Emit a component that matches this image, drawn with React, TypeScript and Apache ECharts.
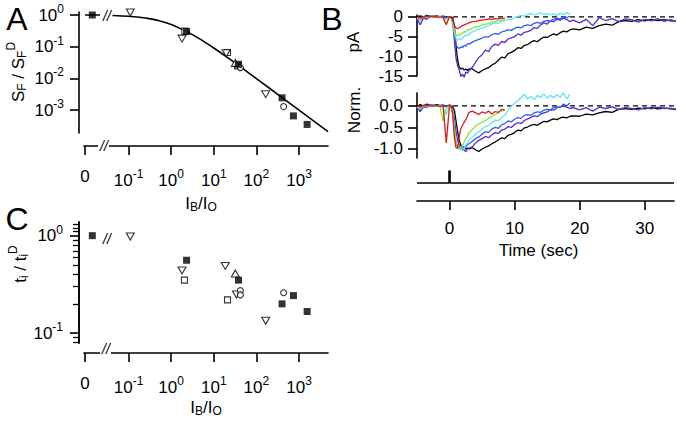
import React, { useEffect, useRef } from 'react';
import * as echarts from 'echarts';

const FONT = '"Liberation Sans", Arial, Helvetica, sans-serif';

// ---------- Panel A : S_F / S_F^D versus I_B/I_O (0 = darkness) ----------
const A_FILLED_SQ_X = [0, 2.3, 38, 400, 740, 1550];
const A_FILLED_SQ_Y = [1.0, 0.3, 0.028, 0.00245, 0.00066, 0.000355];
const A_OPEN_SQ_X = [2.1, 21, 36];
const A_OPEN_SQ_Y = [0.31, 0.066, 0.025];
const A_TRI_DOWN_X = [0.11, 1.8, 19.5, 165];
const A_TRI_DOWN_Y = [1.2, 0.18, 0.062, 0.0032];
const A_TRI_UP_X = [32];
const A_TRI_UP_Y = [0.031];
const A_CIRCLE_X = [42, 436];
const A_CIRCLE_Y = [0.022, 0.0013];
const A_FIT_X = [0.042, 0.1, 0.2, 0.3, 0.5, 1, 2, 3, 5, 10, 20, 50, 100, 200, 500, 1000, 2000, 4800];
const A_FIT_Y = [0.96, 0.91, 0.83, 0.77, 0.67, 0.5, 0.33, 0.25, 0.167, 0.091, 0.048, 0.0196, 0.0099, 0.005, 0.002, 0.001, 0.0005, 0.00021];
const A_FIT_DARK = 1.0;

// ---------- Panel C : t_i / t_i^D versus I_B/I_O ----------
const C_FILLED_SQ_X = [0, 2.3, 38, 400, 740, 1550];
const C_FILLED_SQ_Y = [1.0, 0.56, 0.35, 0.2, 0.243, 0.167];
const C_OPEN_SQ_X = [2.05, 21];
const C_OPEN_SQ_Y = [0.35, 0.22];
const C_TRI_DOWN_X = [0.11, 1.8, 18.6, 34, 165];
const C_TRI_DOWN_Y = [0.98, 0.44, 0.49, 0.25, 0.134];
const C_TRI_UP_X = [32];
const C_TRI_UP_Y = [0.41];
const C_CIRCLE_X = [42, 42, 436];
const C_CIRCLE_Y = [0.273, 0.247, 0.26];
const C_MINOR_TICKS = [1.3, 1.2, 1.1, 0.9, 0.8, 0.7, 0.6, 0.5, 0.4, 0.3, 0.2, 0.09, 0.08];

// log-axis tick labels (exponents of ten) and the "0" (dark) column
const LOG_X_EXP = [-1, 0, 1, 2, 3];
const A_Y_EXP = [0, -1, -2, -3];
const C_Y_EXP = [0, -1];

// ---------- Panel B : responses (time in s) ----------
const T = [-5, -4.5, -4, -3.5, -3, -2.5, -2, -1.5, -1, -0.5, 0,
  0.25, 0.5, 0.75, 1, 1.25, 1.5, 1.75, 2, 2.25, 2.5, 2.75, 3,
  3.5, 4, 4.5, 5, 5.5, 6, 6.5, 7, 7.5, 8, 8.5, 9, 9.5, 10, 10.5, 11, 11.5, 12, 12.5, 13, 13.5, 14, 14.5, 15, 15.5, 16, 16.5, 17, 17.5, 18, 18.5,
  19, 20, 21, 22, 23, 24, 25, 26, 27, 28, 29, 30, 31, 32, 33, 34, 35];

// top: current (pA)
const PA_BLACK = [0.1, 0.3, 0.0, 0.4, 0.2, 0.1, 0.3, 0.1, 0.2, 0.0, 0.1,
  0.0, -0.3, -2.5, -7.5, -11.0, -12.8, -13.2, -13.0, -13.5, -13.2, -13.6, -13.2,
  -13.2, -13.8, -14.2, -13.6, -13.2, -12.9, -12.2, -11.8, -11.0, -10.2, -10.4, -9.3, -9.0, -8.5, -7.8, -8.0, -7.2, -7.0, -6.4, -6.0, -6.3, -5.6, -5.1, -5.2, -4.7, -4.3, -4.6, -4.0, -3.6, -3.8, -3.3,
  -3.0, -3.3, -2.6, -2.9, -2.2, -1.8, -2.1, -1.2, -0.9, -1.1, -0.7, -1.0, -0.6, -0.9, -0.7, -1.0, -1.1];
const PA_VIOLET = [-0.5, -2.0, -0.3, -0.6, 0.1, 0.2, -0.1, 0.1, -0.2, 0.0, 0.1,
  -0.2, -1.5, -6.0, -10.5, -12.5, -13.5, -15.2, -14.5, -15.3, -14.0, -14.3, -13.6,
  -12.8, -11.5, -10.3, -9.6, -8.4, -8.8, -7.5, -6.9, -7.2, -6.2, -6.5, -5.6, -5.3, -5.0, -4.3, -4.6, -3.9, -3.7, -3.4, -2.7, -2.9, -2.0, -1.5, -1.8, -1.0, -1.2, -0.6, -0.8, -0.3, -0.6, -1.2,
  -0.8, -1.5, -0.6, -2.2, -0.2, -0.9, -0.4, -1.2, -0.5, -0.7, -1.3, -0.6, -1.0, -0.4, -1.1, -0.7, -1.2];
const PA_BLUE = [-0.2, -0.8, -0.1, 0.2, 0.0, 0.2, 0.0, -0.1, 0.1, -0.2, 0.1,
  -0.1, -1.0, -4.5, -7.0, -7.8, -8.0, -7.6, -7.8, -7.2, -7.4, -6.8, -6.9,
  -6.4, -6.0, -5.7, -5.4, -5.0, -5.1, -4.5, -4.2, -4.4, -3.8, -3.6, -3.2, -3.4, -2.9, -2.6, -2.8, -2.2, -2.0, -2.2, -1.6, -1.4, -1.6, -1.1, -0.9, -1.0, -0.6, -0.3, -0.5, 0.1, -0.2, 0.2];
const PA_CYAN = [-0.3, -0.6, 0.0, -0.2, 0.1, 0.0, -0.1, 0.1, -0.3, -1.8, 0.0,
  -0.2, -1.2, -4.0, -5.6, -5.9, -5.5, -5.8, -5.3, -5.0, -4.6, -4.8, -4.3,
  -3.8, -3.5, -3.0, -2.9, -2.4, -2.2, -1.8, -1.5, -1.6, -1.1, -0.9, -0.6, -0.7, -0.2, 0.1, 0.4, 0.2, 0.6, 0.9, 0.5, 0.8, 1.0, 0.6, 0.9, 0.5, 0.8, 0.4, 1.0, 0.6, 1.1, 0.7];
const PA_GREEN = [-0.2, -0.5, 0.1, 0.0, 0.2, -0.1, 0.0, 0.1, -0.2, -0.6, 0.0,
  -0.3, -1.5, -3.8, -4.6, -4.8, -4.4, -4.5, -4.0, -3.7, -3.8, -3.3, -3.2,
  -2.8, -2.5, -2.4, -2.0, -1.8, -1.6, -1.3, -1.2, -0.9, -0.8, -0.6];
const PA_RED = [0.0, -0.3, 0.1, 0.0, 0.2, 0.0, 0.1, -0.1, 0.0, -2.0, 0.1,
  -0.1, -0.9, -2.2, -2.8, -3.0, -2.7, -2.5, -2.2, -2.0, -1.8, -1.7, -1.5,
  -1.2, -1.1, -0.9, -0.8, -0.7, -0.5, -0.6, -0.4, -0.5, -0.3, -0.3];

// bottom: normalised
const N_BLACK = [-0.02, 0.03, 0.0, 0.04, 0.02, 0.0, 0.03, 0.01, 0.02, 0.0, 0.02,
  0.0, -0.02, -0.1, -0.35, -0.6, -0.8, -0.92, -0.95, -0.97, -1.0, -0.98, -1.0,
  -0.97, -1.02, -1.06, -1.0, -0.96, -0.93, -0.88, -0.84, -0.79, -0.74, -0.76, -0.68, -0.66, -0.62, -0.56, -0.58, -0.51, -0.49, -0.45, -0.43, -0.45, -0.4, -0.36, -0.37, -0.33, -0.3, -0.32, -0.28, -0.26, -0.28, -0.24,
  -0.23, -0.24, -0.19, -0.21, -0.16, -0.13, -0.15, -0.08, -0.06, -0.08, -0.05, -0.07, -0.04, -0.07, -0.05, -0.07, -0.08];
const N_VIOLET = [-0.03, -0.13, -0.02, -0.04, 0.01, 0.02, -0.01, 0.01, -0.01, 0.0, 0.01,
  -0.01, -0.05, -0.3, -0.6, -0.8, -0.92, -1.0, -0.97, -1.03, -1.06, -1.0, -0.98,
  -0.95, -0.86, -0.8, -0.76, -0.71, -0.74, -0.67, -0.62, -0.64, -0.56, -0.54, -0.48, -0.5, -0.43, -0.39, -0.41, -0.34, -0.3, -0.27, -0.23, -0.25, -0.19, -0.16, -0.14, -0.09, -0.1, -0.04, -0.02, 0.0, -0.03, -0.06,
  -0.04, -0.09, -0.04, -0.12, -0.03, -0.06, -0.02, -0.08, -0.04, -0.06, -0.09, -0.04, -0.07, -0.03, -0.06, -0.05, -0.09];
const N_BLUE = [-0.02, -0.08, 0.0, 0.02, 0.0, 0.02, 0.0, -0.01, 0.01, -0.02, 0.01,
  -0.02, -0.15, -0.55, -0.85, -0.96, -1.0, -0.97, -1.02, -0.95, -0.96, -0.9, -0.88,
  -0.82, -0.76, -0.72, -0.66, -0.6, -0.62, -0.54, -0.5, -0.52, -0.44, -0.41, -0.35, -0.37, -0.31, -0.27, -0.29, -0.22, -0.2, -0.22, -0.16, -0.14, -0.15, -0.1, -0.08, -0.09, -0.04, -0.02, -0.04, 0.04, 0.0, 0.07];
const N_CYAN = [-0.03, -0.07, 0.0, -0.03, 0.01, 0.0, -0.01, 0.01, -0.03, -0.2, 0.0,
  -0.03, -0.2, -0.6, -0.9, -0.98, -1.0, -1.03, -0.98, -1.0, -0.9, -0.86, -0.8,
  -0.72, -0.66, -0.6, -0.54, -0.48, -0.45, -0.39, -0.33, -0.34, -0.27, -0.22, -0.1, 0.0, 0.06, 0.12, 0.2, 0.27, 0.16, 0.22, 0.14, 0.24, 0.2, 0.28, 0.18, 0.25, 0.19, 0.26, 0.2, 0.3, 0.16, 0.28];
const N_GREEN = [-0.02, -0.06, 0.01, 0.0, 0.02, -0.01, 0.0, 0.01, -0.35, -0.05, 0.0,
  -0.02, -0.1, -0.5, -0.85, -0.97, -1.0, -0.98, -0.92, -0.84, -0.76, -0.7, -0.62,
  -0.55, -0.47, -0.42, -0.38, -0.34, -0.29, -0.24, -0.2, -0.17, -0.12, -0.1];
const N_RED = [0.0, -0.03, 0.01, 0.0, 0.02, 0.0, 0.01, -0.01, 0.0, -0.86, 0.02,
  0.0, -0.2, -0.75, -0.97, -0.98, -0.7, -0.52, -0.45, -0.38, -0.32, -0.24, -0.15,
  -0.12, -0.16, -0.2, -0.14, -0.17, -0.12, -0.19, -0.13, -0.15, -0.08, -0.1];

// stimulus trace
const STIM_T = [-5, -0.08, -0.08, 0.08, 0.08, 34.5];
const STIM_V = [0, 0, 1, 1, 0, 0];

const PA_TICKS = [0, -5, -10, -15];
const NORM_TICKS = [0, -0.5, -1];
const TIME_TICKS = [0, 10, 20, 30];

const TRACE_COLORS = {
  black: '#000000',
  violet: '#5a2ad2',
  blue: '#2f5ff0',
  cyan: '#5fe6f4',
  green: '#8ee03c',
  red: '#d81c1c',
};

// ---------- helpers ----------
const DARK_POS = -1.85; // axis position of the I_B = 0 column
const DARK_TICK = -2.02; // axis position of the "0" tick
const BREAK_LEFT = -1.67; // end of dark plateau before the axis break
const logPos = (v: number) => (v === 0 ? DARK_POS : Math.log10(v));
const pts = (xs: number[], ys: number[]) => xs.map((x, i) => [logPos(x), Math.log10(ys[i])]);
const trace = (vals: number[]) => vals.map((v, i) => [T[i], v]);

const tickRich = {
  b: { fontSize: 17, fontFamily: FONT, color: '#000' },
  s: { fontSize: 12, fontFamily: FONT, color: '#000', padding: [0, 0, 12, 0] },
};
const nameRich = {
  m: { fontSize: 17, fontFamily: FONT, color: '#000' },
  sb: { fontSize: 12, fontFamily: FONT, color: '#000', padding: [8, 0, 0, 0] },
  sp: { fontSize: 12, fontFamily: FONT, color: '#000', padding: [0, 0, 14, 0] },
};

const fmtLogX = (v: number) => (v < -1.5 ? '{b|0}' : `{b|10}{s|${Math.round(v)}}`);
const fmtLogY = (v: number) => `{b|10}{s|${Math.round(v)}}`;

const axisLineStyle = { color: '#000', width: 1.6 };

function logXAxis(grid: number, offset: number, margin: number, nameGap: number, namePadRight: number) {
  return {
    gridIndex: grid, type: 'value', min: -2.045, max: 3.68, offset, position: 'bottom',
    axisLine: { show: true, onZero: false, lineStyle: axisLineStyle },
    axisTick: { show: true, inside: false, length: 9, customValues: [DARK_TICK, ...LOG_X_EXP], lineStyle: axisLineStyle },
    axisLabel: { show: true, customValues: [DARK_TICK, ...LOG_X_EXP], margin, formatter: fmtLogX, rich: tickRich, hideOverlap: false },
    splitLine: { show: false },
    name: '{m|I}{sb|B}{m|/I}{sb|O}', nameLocation: 'middle', nameGap,
    nameTextStyle: { fontSize: 17, fontFamily: FONT, color: '#000', rich: nameRich, padding: [0, namePadRight, 0, 0] },
  };
}

function marker(xi: number, yi: number, xs: number[], ys: number[], symbol: string, size: any, filled: boolean, rotate = 0) {
  return {
    type: 'scatter', xAxisIndex: xi, yAxisIndex: yi, data: pts(xs, ys), symbol, symbolSize: size, symbolRotate: rotate,
    itemStyle: filled ? { color: '#000' } : { color: '#fff', borderColor: '#000', borderWidth: 1.1 },
    z: filled ? 5 : 4, silent: true,
  };
}

function traceSeries(xi: number, yi: number, vals: number[], color: string) {
  return {
    type: 'line', xAxisIndex: xi, yAxisIndex: yi, data: trace(vals), showSymbol: false, symbol: 'none',
    lineStyle: { color, width: 1.3 }, clip: false, silent: true, z: 3,
  };
}

const dashedZero = (xi: number, yi: number) => ({
  type: 'line', xAxisIndex: xi, yAxisIndex: yi, data: [[-5, 0], [34.5, 0]], showSymbol: false, symbol: 'none',
  lineStyle: { color: '#000', width: 1.2, type: [5, 4] }, silent: true, z: 2,
});

const gridBase = { containLabel: false, outerBoundsMode: 'none', show: false };

const centered = { align: 'center', verticalAlign: 'middle', textAlign: 'center', textVerticalAlign: 'middle' };

const option: any = {
  animation: false,
  backgroundColor: '#ffffff',
  textStyle: { fontFamily: FONT, color: '#000' },
  grid: [
    { ...gridBase, left: 84, top: 12, width: 244, height: 121 },
    { ...gridBase, left: 84, top: 222, width: 244, height: 121 },
    { ...gridBase, left: 417, top: 15, width: 257, height: 61 },
    { ...gridBase, left: 417, top: 93, width: 257, height: 65 },
    { ...gridBase, left: 417, top: 171, width: 257, height: 12 },
    // overlay grid of panel C carrying its minor log ticks
    { ...gridBase, left: 84, top: 222, width: 244, height: 121 },
  ],
  xAxis: [
    logXAxis(0, 13, 22, 47, 10),
    logXAxis(1, 10, 22, 44, 0),
    { gridIndex: 2, type: 'value', min: -5, max: 34.5, show: false },
    { gridIndex: 3, type: 'value', min: -5, max: 34.5, show: false },
    {
      gridIndex: 4, type: 'value', min: -5, max: 34.5, offset: 18, position: 'bottom',
      axisLine: { show: true, onZero: false, lineStyle: axisLineStyle },
      axisTick: { show: true, inside: false, length: 9, customValues: TIME_TICKS, lineStyle: axisLineStyle },
      axisLabel: { show: true, customValues: TIME_TICKS, margin: 19, fontSize: 17, fontFamily: FONT, color: '#000' },
      splitLine: { show: false },
      name: 'Time (sec)', nameLocation: 'middle', nameGap: 41,
      nameTextStyle: { fontSize: 17, fontFamily: FONT, color: '#000', padding: [0, 14, 0, 0] },
    },
    { gridIndex: 5, type: 'value', min: -2.045, max: 3.68, show: false },
  ],
  yAxis: [
    {
      gridIndex: 0, type: 'value', min: -3.72, max: 0.095, offset: 5, position: 'left',
      axisLine: { show: true, onZero: false, lineStyle: axisLineStyle },
      axisTick: { show: true, inside: false, length: 9, customValues: A_Y_EXP, lineStyle: axisLineStyle },
      axisLabel: { show: true, customValues: A_Y_EXP, margin: 15, formatter: fmtLogY, rich: tickRich, hideOverlap: false },
      splitLine: { show: false },
    },
    {
      gridIndex: 1, type: 'value', min: -1.1, max: 0.14, offset: 5, position: 'left',
      axisLine: { show: true, onZero: false, lineStyle: axisLineStyle },
      axisTick: { show: true, inside: false, length: 9, customValues: C_Y_EXP, lineStyle: axisLineStyle },
      axisLabel: { show: true, customValues: C_Y_EXP, margin: 16, formatter: fmtLogY, rich: tickRich, hideOverlap: false },
      splitLine: { show: false },
    },
    {
      gridIndex: 5, type: 'value', min: -1.1, max: 0.14, offset: 5, position: 'left',
      axisLine: { show: true, onZero: false, lineStyle: axisLineStyle },
      axisTick: { show: true, inside: false, length: 6, customValues: C_MINOR_TICKS.map((v) => Math.log10(v)), lineStyle: { color: '#000', width: 1.3 } },
      axisLabel: { show: false },
      splitLine: { show: false },
    },
    {
      gridIndex: 2, type: 'value', min: -15, max: 0.5, position: 'left',
      axisLine: { show: true, onZero: false, lineStyle: axisLineStyle },
      axisTick: { show: true, inside: false, length: 9, customValues: PA_TICKS, lineStyle: axisLineStyle },
      axisLabel: { show: true, customValues: PA_TICKS, margin: 14, fontSize: 17, fontFamily: FONT, color: '#000', hideOverlap: false },
      splitLine: { show: false },
    },
    {
      gridIndex: 3, type: 'value', min: -1.21, max: 0.3, position: 'left',
      axisLine: { show: true, onZero: false, lineStyle: axisLineStyle },
      axisTick: { show: true, inside: false, length: 9, customValues: NORM_TICKS, lineStyle: axisLineStyle },
      axisLabel: {
        show: true, customValues: NORM_TICKS, margin: 14, fontSize: 17, fontFamily: FONT, color: '#000', hideOverlap: false,
        formatter: (v: number) => v.toFixed(1),
      },
      splitLine: { show: false },
    },
    { gridIndex: 4, type: 'value', min: 0, max: 1, show: false },
  ],
  series: [
    // Panel A
    {
      type: 'line', xAxisIndex: 0, yAxisIndex: 0, showSymbol: false, symbol: 'none',
      data: [[DARK_TICK, Math.log10(A_FIT_DARK)], [BREAK_LEFT, Math.log10(A_FIT_DARK)]],
      lineStyle: { color: '#000', width: 1.6 }, silent: true, z: 3,
    },
    {
      type: 'line', xAxisIndex: 0, yAxisIndex: 0, showSymbol: false, symbol: 'none', smooth: 0.3,
      data: pts(A_FIT_X, A_FIT_Y), lineStyle: { color: '#000', width: 1.6 }, silent: true, z: 3, clip: false,
    },
    marker(0, 0, A_OPEN_SQ_X, A_OPEN_SQ_Y, 'rect', 6, false),
    marker(0, 0, A_TRI_DOWN_X, A_TRI_DOWN_Y, 'triangle', [8, 7], false, 180),
    marker(0, 0, A_TRI_UP_X, A_TRI_UP_Y, 'triangle', [8, 7], false),
    marker(0, 0, A_CIRCLE_X, A_CIRCLE_Y, 'circle', 6, false),
    marker(0, 0, A_FILLED_SQ_X, A_FILLED_SQ_Y, 'rect', 7, true),
    // Panel C
    marker(1, 1, C_OPEN_SQ_X, C_OPEN_SQ_Y, 'rect', 6, false),
    marker(1, 1, C_TRI_DOWN_X, C_TRI_DOWN_Y, 'triangle', [8, 7], false, 180),
    marker(1, 1, C_TRI_UP_X, C_TRI_UP_Y, 'triangle', [8, 7], false),
    marker(1, 1, C_CIRCLE_X, C_CIRCLE_Y, 'circle', 6, false),
    marker(1, 1, C_FILLED_SQ_X, C_FILLED_SQ_Y, 'rect', 7, true),
    // Panel B top
    dashedZero(2, 3),
    traceSeries(2, 3, PA_BLACK, TRACE_COLORS.black),
    traceSeries(2, 3, PA_VIOLET, TRACE_COLORS.violet),
    traceSeries(2, 3, PA_BLUE, TRACE_COLORS.blue),
    traceSeries(2, 3, PA_CYAN, TRACE_COLORS.cyan),
    traceSeries(2, 3, PA_GREEN, TRACE_COLORS.green),
    traceSeries(2, 3, PA_RED, TRACE_COLORS.red),
    // Panel B bottom
    dashedZero(3, 4),
    traceSeries(3, 4, N_BLACK, TRACE_COLORS.black),
    traceSeries(3, 4, N_VIOLET, TRACE_COLORS.violet),
    traceSeries(3, 4, N_BLUE, TRACE_COLORS.blue),
    traceSeries(3, 4, N_CYAN, TRACE_COLORS.cyan),
    traceSeries(3, 4, N_GREEN, TRACE_COLORS.green),
    traceSeries(3, 4, N_RED, TRACE_COLORS.red),
    // stimulus
    {
      type: 'line', xAxisIndex: 4, yAxisIndex: 5, showSymbol: false, symbol: 'none',
      data: STIM_T.map((t, i) => [t, STIM_V[i]]), lineStyle: { color: '#000', width: 1.6 }, silent: true, clip: false,
    },
  ],
  graphic: [
    { type: 'text', x: 17, y: 18.5, z: 20, style: { text: 'A', fontSize: 32, fontFamily: FONT, fill: '#000', ...centered } },
    { type: 'text', x: 332, y: 18.5, z: 20, style: { text: 'B', fontSize: 32, fontFamily: FONT, fill: '#000', ...centered } },
    { type: 'text', x: 17, y: 219, z: 20, style: { text: 'C', fontSize: 32, fontFamily: FONT, fill: '#000', ...centered } },
    {
      type: 'text', x: 18, y: 72, rotation: Math.PI / 2, z: 20,
      style: { text: '{m|S}{sb|F}{m| / S}{sb|F}{sp|D}', rich: nameRich, fontSize: 17, fontFamily: FONT, fill: '#000', ...centered },
    },
    {
      type: 'text', x: 20, y: 264, rotation: Math.PI / 2, z: 20,
      style: { text: '{m|t}{sb|i}{m| / t}{sb|i}{sp|D}', rich: nameRich, fontSize: 17, fontFamily: FONT, fill: '#000', ...centered },
    },
    { type: 'text', x: 353, y: 42, rotation: Math.PI / 2, z: 20, style: { text: 'pA', fontSize: 17, fontFamily: FONT, fill: '#000', ...centered } },
    { type: 'text', x: 354, y: 110, rotation: Math.PI / 2, z: 20, style: { text: 'Norm.', fontSize: 17, fontFamily: FONT, fill: '#000', ...centered } },
    // axis / curve breaks
    { type: 'rect', z: 20, shape: { x: 98, y: 142, width: 11, height: 8 }, style: { fill: '#fff' } },
    { type: 'text', x: 104, y: 146, z: 21, style: { text: '//', fontSize: 14, fontStyle: 'italic', fontFamily: FONT, fill: '#000', ...centered } },
    { type: 'text', x: 107, y: 16, z: 21, style: { text: '//', fontSize: 14, fontStyle: 'italic', fontFamily: FONT, fill: '#000', ...centered } },
    { type: 'rect', z: 20, shape: { x: 100, y: 349, width: 11, height: 8 }, style: { fill: '#fff' } },
    { type: 'text', x: 106, y: 349, z: 21, style: { text: '//', fontSize: 14, fontStyle: 'italic', fontFamily: FONT, fill: '#000', ...centered } },
    { type: 'text', x: 107, y: 239, z: 21, style: { text: '//', fontSize: 14, fontStyle: 'italic', fontFamily: FONT, fill: '#000', ...centered } },
  ],
};

export default function App() {
  const ref = useRef<HTMLDivElement>(null);
  useEffect(() => {
    if (!ref.current) return;
    const chart = echarts.init(ref.current, null, { renderer: 'svg' });
    chart.setOption(option);
    return () => chart.dispose();
  }, []);
  return (
    <div
      ref={ref}
      style={{ position: 'fixed', left: 0, top: 0, width: 677, height: 426, background: '#fff' }}
    />
  );
}
